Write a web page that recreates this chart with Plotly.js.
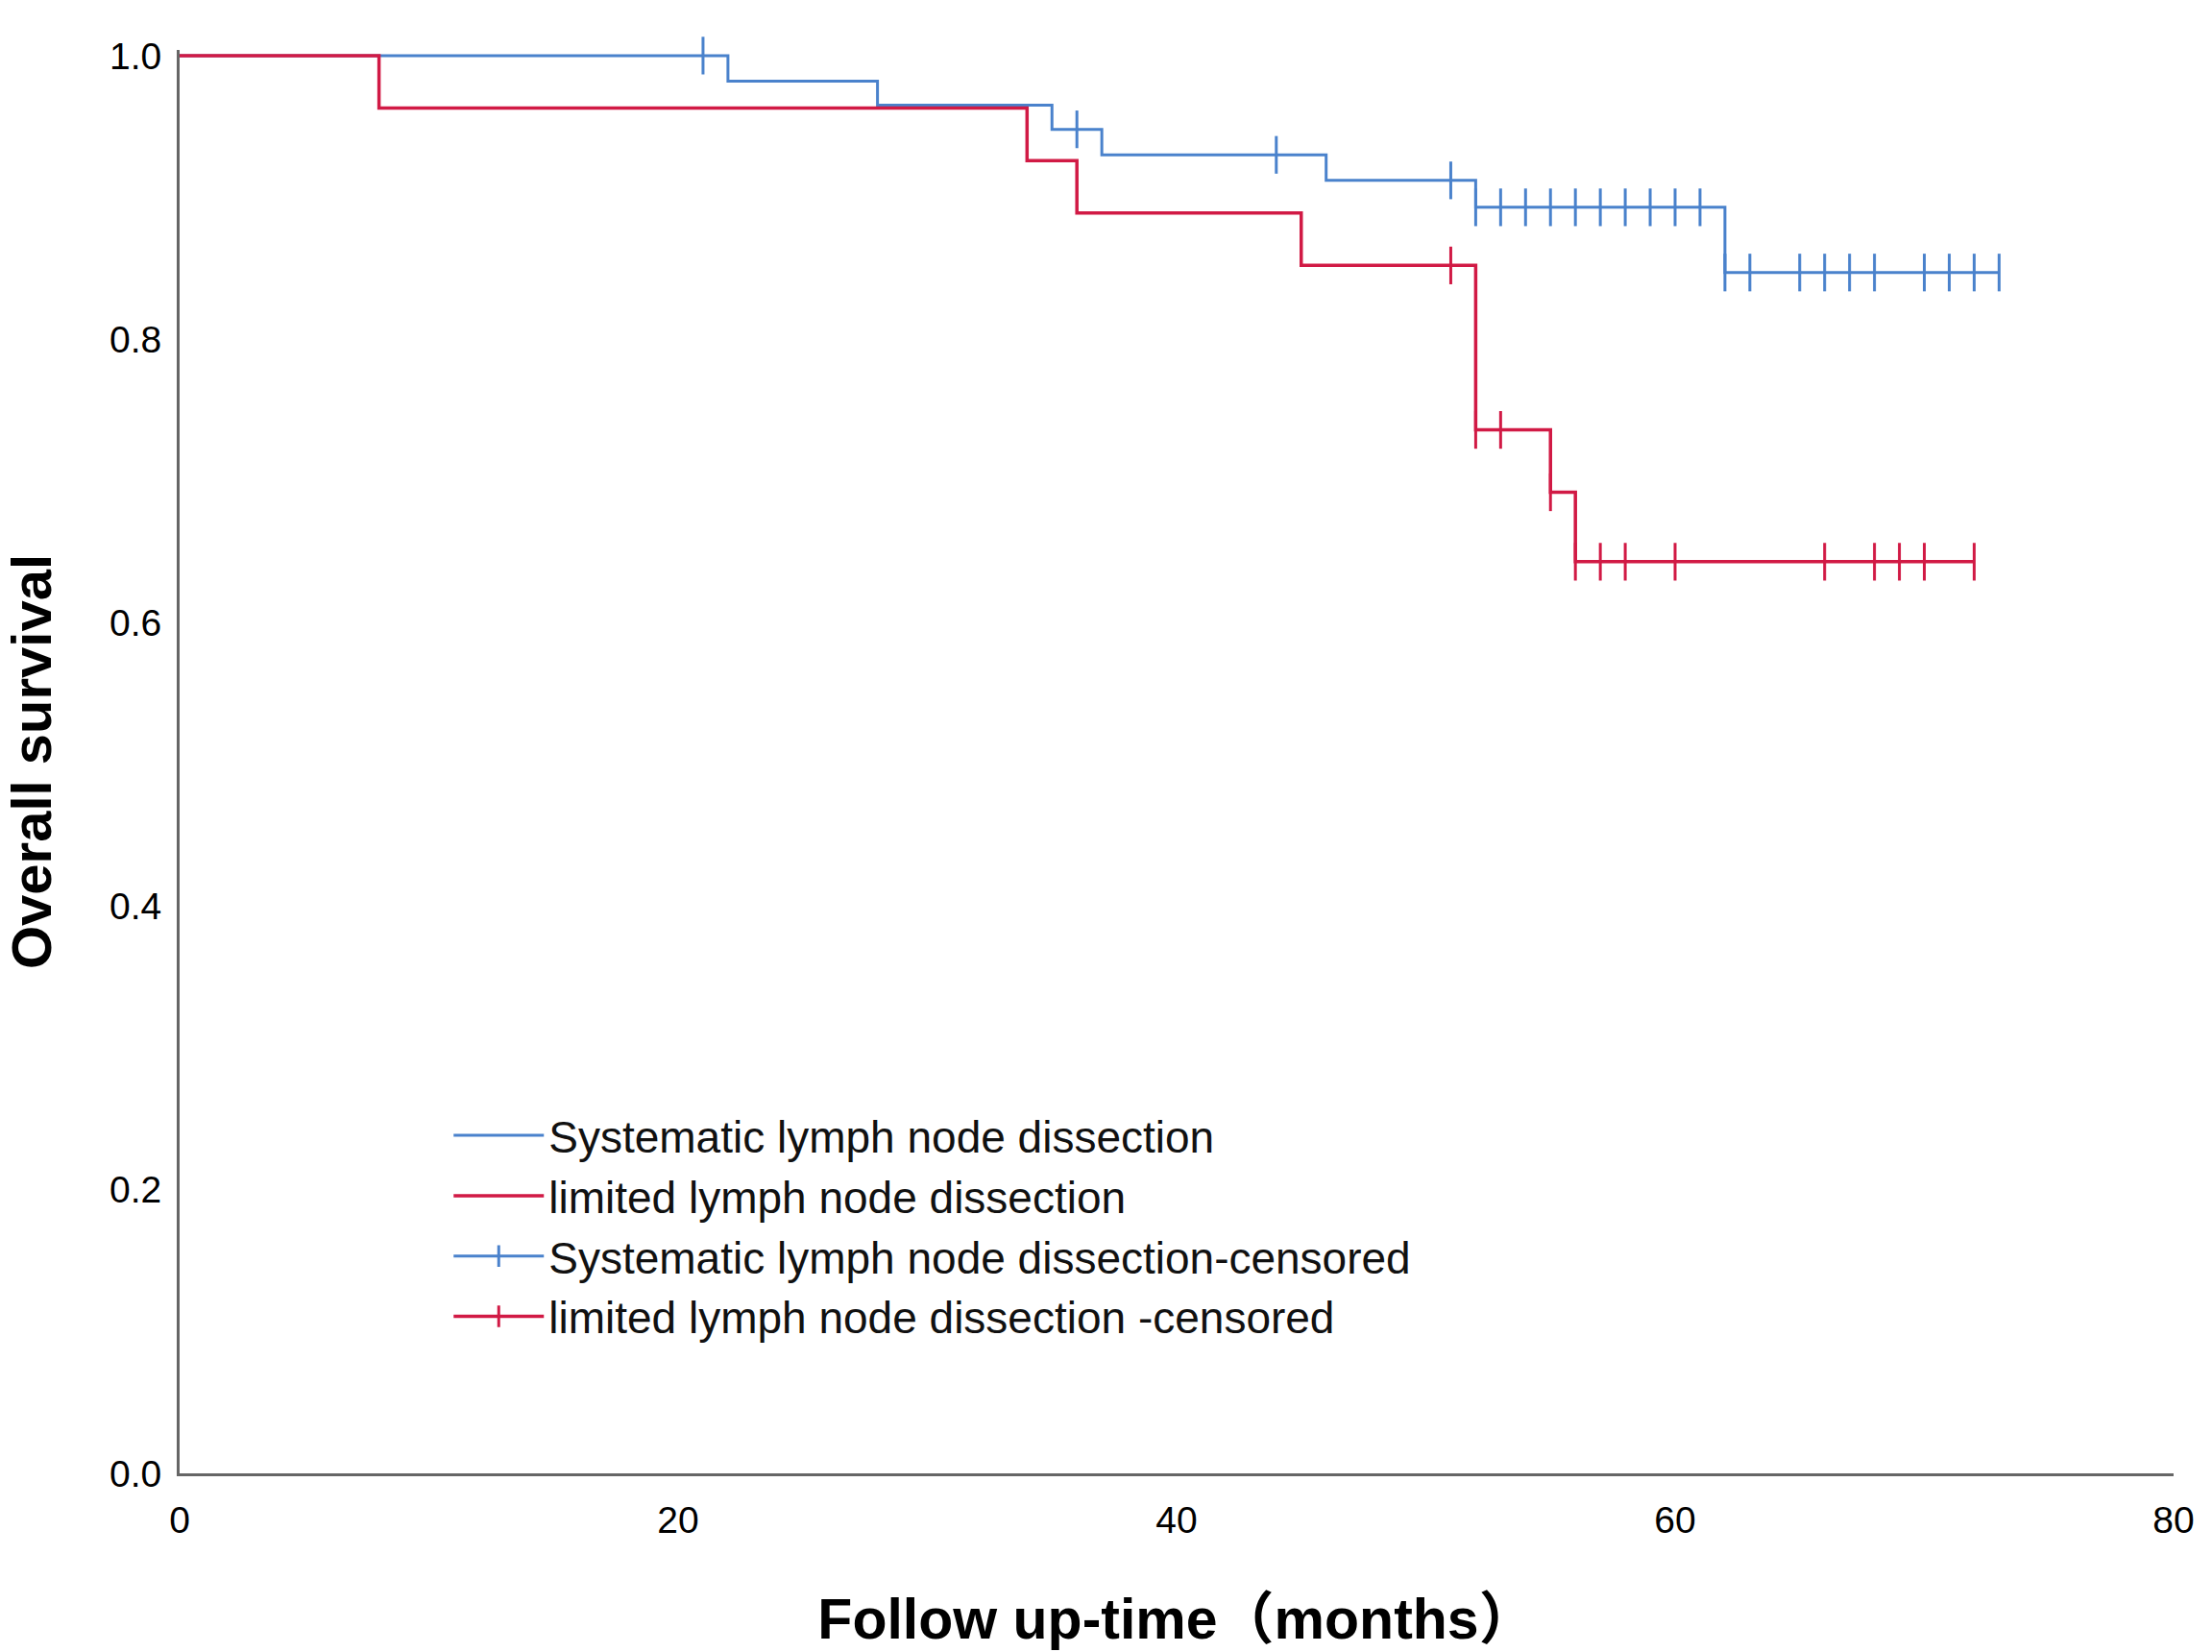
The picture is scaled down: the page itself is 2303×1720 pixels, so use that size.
<!DOCTYPE html>
<html>
<head>
<meta charset="utf-8">
<script src="https://cdn.plot.ly/plotly-3.0.1.min.js"></script>
<style>html,body{margin:0;padding:0;background:#fff;}#chart{width:2303px;height:1720px;}</style>
</head>
<body>
<div id="chart"></div>
<script>
// Kaplan-Meier step data
const sysTimes = [0, 22, 28, 35, 37, 46, 52, 62, 73];
const sysSurv  = [1.0, 0.982, 0.965, 0.948, 0.930, 0.912, 0.893, 0.847, 0.847];
const sysCensored = [21, 36, 44, 51, 52, 53, 54, 55, 56, 57, 58, 59, 60, 61, 62, 63, 65, 66, 67, 68, 70, 71, 72, 73];

const limTimes = [0, 8, 34, 36, 45, 52, 55, 56, 72];
const limSurv  = [1.0, 0.963, 0.926, 0.889, 0.852, 0.736, 0.692, 0.643, 0.643];
const limCensored = [51, 52, 53, 55, 56, 57, 58, 60, 66, 68, 69, 70, 72];

const xTicks = [0, 20, 40, 60, 80];
const yTicks = [0.0, 0.2, 0.4, 0.6, 0.8, 1.0];

const names = [
  'Systematic lymph node dissection',
  'limited lymph node dissection',
  'Systematic lymph node dissection-censored',
  'limited lymph node dissection -censored'
];

function survAt(times, surv, t) {
  let s = surv[0];
  for (let i = 0; i < times.length; i++) { if (times[i] <= t) s = surv[i]; }
  return s;
}
function censorXY(times, surv, cens) {
  const x = [], y = [];
  cens.forEach((t, i) => {
    if (i > 0) { x.push(null); y.push(null); }
    x.push(t); y.push(survAt(times, surv, t));
  });
  return {x, y};
}

const blue = '#4a82cc', blueDark = '#35609e';
const red = '#d11a45', redDark = '#8e0f2a';

const sc = censorXY(sysTimes, sysSurv, sysCensored);
const lc = censorXY(limTimes, limSurv, limCensored);

const traces = [
  {x: sysTimes, y: sysSurv, mode: 'lines', name: names[0], line: {shape: 'hv', color: blue, width: 3}},
  {x: limTimes, y: limSurv, mode: 'lines', name: names[1], line: {shape: 'hv', color: red, width: 3.5}},
  {x: sc.x, y: sc.y, mode: 'lines+markers', connectgaps: false, name: names[2], cliponaxis: false,
   line: {color: blue, width: 3},
   marker: {symbol: 'line-ns-open', size: 28, line: {color: blueDark, width: 3}}},
  {x: lc.x, y: lc.y, mode: 'lines+markers', connectgaps: false, name: names[3], cliponaxis: false,
   line: {color: red, width: 3.5},
   marker: {symbol: 'line-ns-open', size: 28, line: {color: redDark, width: 3}}}
];

const layout = {
  width: 2303, height: 1720,
  margin: {l: 187, r: 40, t: 52, b: 186},
  paper_bgcolor: '#fff', plot_bgcolor: '#fff',
  font: {family: '"Liberation Sans", Arial, sans-serif', color: '#000'},
  showlegend: true,
  legend: {
    x: 0.135, y: 0.262, xanchor: 'left', yanchor: 'top',
    font: {size: 46, family: '"Liberation Sans", Arial, sans-serif', color: '#111'},
    bgcolor: 'rgba(0,0,0,0)', itemwidth: 94, tracegroupgap: 0
  },
  xaxis: {
    range: [0, 80], tickvals: xTicks, ticktext: xTicks.map(String),
    showgrid: false, zeroline: false, showline: true, linecolor: '#666', linewidth: 3,
    ticks: '', tickfont: {size: 39}, ticklabelstandoff: 12,
    title: {text: 'Follow up-time（months）', font: {size: 59, family: '"Liberation Sans", Arial, "Noto Sans CJK SC", sans-serif', weight: 'bold'}, standoff: 62},
    automargin: false
  },
  yaxis: {
    range: [0, 1.004], tickvals: yTicks, ticktext: yTicks.map(v => v.toFixed(1)),
    showgrid: false, zeroline: false, showline: true, linecolor: '#666', linewidth: 3,
    ticks: '', tickfont: {size: 39}, ticklabelstandoff: 8,
    title: {text: 'Overall survival', font: {size: 58, weight: 'bold'}, standoff: 58},
    automargin: false
  }
};

Plotly.newPlot('chart', traces, layout, {displayModeBar: false, responsive: false});
</script>
</body>
</html>
